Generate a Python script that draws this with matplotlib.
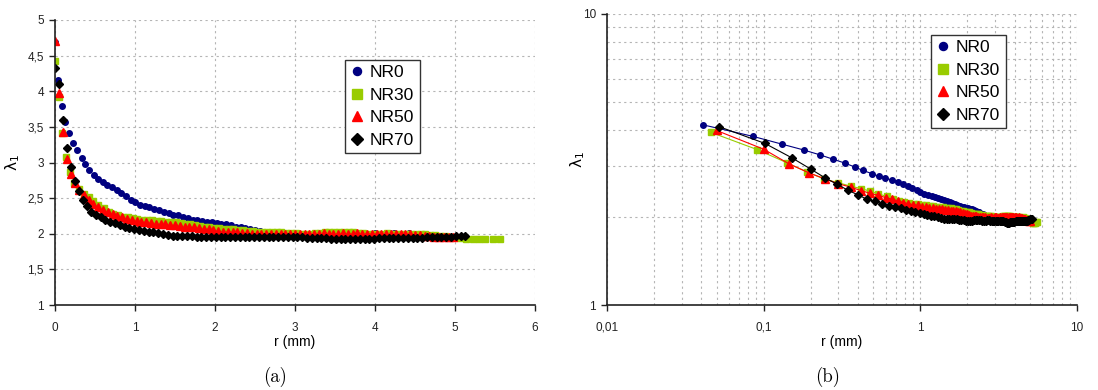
import numpy as np
import matplotlib
matplotlib.use('Agg')
import matplotlib.pyplot as plt
from matplotlib.lines import Line2D
from matplotlib.ticker import FuncFormatter, LogLocator, NullFormatter, MultipleLocator

# NR0
r_nr0 = [0, 0.041, 0.085, 0.131, 0.18, 0.229, 0.277, 0.332, 0.381, 0.43, 0.489, 0.542, 0.594, 0.656, 0.716, 0.77, 0.83, 0.89, 0.95, 1.0,
         1.06, 1.12, 1.18, 1.24, 1.3, 1.36, 1.42, 1.48, 1.54, 1.6, 1.66, 1.72, 1.78, 1.84, 1.9, 1.96, 2.02, 2.08, 2.14, 2.2,
         2.26, 2.32, 2.38, 2.44, 2.5, 2.56, 2.62, 2.68, 2.74, 2.8, 2.86, 2.92, 2.98, 3.04, 3.1, 3.16, 3.22, 3.28, 3.34, 3.4,
         3.46, 3.52, 3.58, 3.64, 3.7, 3.76, 3.82, 3.88, 3.94, 4.0, 4.06, 4.12, 4.18, 4.24, 4.3, 4.36, 4.42, 4.48, 4.54, 4.6, 4.66, 4.72]
l_nr0 = [4.69, 4.16, 3.80, 3.57, 3.41, 3.28, 3.17, 3.07, 2.98, 2.90, 2.83, 2.77, 2.73, 2.69, 2.65, 2.61, 2.57, 2.53, 2.48, 2.44,
         2.41, 2.39, 2.37, 2.35, 2.33, 2.31, 2.29, 2.27, 2.26, 2.24, 2.22, 2.20, 2.19, 2.18, 2.17, 2.16, 2.15, 2.14, 2.13, 2.12,
         2.10, 2.09, 2.08, 2.06, 2.05, 2.04, 2.03, 2.02, 2.02, 2.01, 2.01, 2.01, 2.00, 2.00, 2.00, 2.00, 2.00, 1.99, 1.99, 2.00,
         2.00, 2.01, 2.01, 2.00, 2.00, 2.01, 2.01, 2.00, 2.00, 2.01, 2.00, 2.00, 2.01, 2.01, 2.00, 2.00, 2.01, 2.00, 1.99, 1.99, 1.98, 1.98]

# NR30
r_nr30 = [0, 0.046, 0.091, 0.141, 0.188, 0.243, 0.30, 0.36, 0.42, 0.48, 0.54, 0.61, 0.67, 0.73, 0.79, 0.85, 0.91, 0.97, 1.03, 1.09,
          1.15, 1.21, 1.27, 1.33, 1.39, 1.45, 1.51, 1.57, 1.63, 1.69, 1.75, 1.81, 1.87, 1.93, 1.99, 2.05, 2.11, 2.17, 2.23, 2.29,
          2.35, 2.41, 2.47, 2.53, 2.59, 2.65, 2.71, 2.77, 2.83, 2.89, 2.95, 3.01, 3.07, 3.13, 3.19, 3.25, 3.31, 3.37, 3.43, 3.49,
          3.55, 3.61, 3.67, 3.73, 3.79, 3.85, 3.91, 3.97, 4.03, 4.09, 4.15, 4.21, 4.27, 4.33, 4.39, 4.45, 4.51, 4.57, 4.63, 4.69,
          4.75, 4.81, 4.87, 4.93, 4.99, 5.06, 5.14, 5.22, 5.30, 5.38, 5.47, 5.56]
l_nr30 = [4.43, 3.92, 3.42, 3.08, 2.87, 2.71, 2.63, 2.56, 2.51, 2.46, 2.41, 2.36, 2.31, 2.28, 2.26, 2.24, 2.23, 2.22, 2.21, 2.20,
          2.19, 2.19, 2.18, 2.18, 2.17, 2.16, 2.16, 2.15, 2.14, 2.13, 2.12, 2.11, 2.10, 2.09, 2.08, 2.08, 2.07, 2.06, 2.06, 2.05,
          2.05, 2.04, 2.04, 2.03, 2.03, 2.03, 2.02, 2.02, 2.02, 2.01, 2.01, 2.01, 2.00, 2.00, 2.00, 2.01, 2.01, 2.02, 2.02, 2.02,
          2.03, 2.03, 2.02, 2.02, 2.01, 2.01, 2.00, 2.00, 2.00, 2.00, 2.01, 2.00, 2.00, 1.99, 1.99, 1.99, 2.00, 1.99, 1.99, 1.98,
          1.98, 1.97, 1.97, 1.96, 1.95, 1.94, 1.93, 1.92, 1.92, 1.92, 1.93, 1.93]

# NR50
r_nr50 = [0, 0.050, 0.10, 0.146, 0.196, 0.248, 0.30, 0.36, 0.42, 0.48, 0.54, 0.60, 0.66, 0.72, 0.78, 0.84, 0.90, 0.96, 1.02, 1.08,
          1.14, 1.2, 1.26, 1.32, 1.38, 1.44, 1.5, 1.56, 1.62, 1.68, 1.74, 1.8, 1.86, 1.92, 1.98, 2.04, 2.1, 2.16, 2.22, 2.28,
          2.34, 2.4, 2.46, 2.52, 2.58, 2.64, 2.7, 2.76, 2.82, 2.88, 2.94, 3.0, 3.06, 3.12, 3.18, 3.24, 3.3, 3.36, 3.42, 3.48,
          3.54, 3.6, 3.66, 3.72, 3.78, 3.84, 3.9, 3.96, 4.02, 4.08, 4.14, 4.2, 4.26, 4.32, 4.38, 4.44, 4.5, 4.56, 4.62, 4.68,
          4.74, 4.8, 4.86, 4.92, 4.98]
l_nr50 = [4.70, 3.98, 3.43, 3.05, 2.84, 2.71, 2.61, 2.54, 2.47, 2.42, 2.38, 2.34, 2.31, 2.28, 2.25, 2.23, 2.21, 2.20, 2.18, 2.17,
          2.16, 2.15, 2.14, 2.14, 2.13, 2.12, 2.12, 2.11, 2.10, 2.10, 2.09, 2.08, 2.07, 2.06, 2.05, 2.04, 2.03, 2.03, 2.02, 2.02,
          2.01, 2.01, 2.00, 2.00, 2.00, 1.99, 1.99, 1.99, 2.00, 1.99, 1.99, 2.00, 2.00, 1.99, 1.99, 2.00, 2.00, 2.01, 2.00, 2.00,
          2.00, 2.01, 2.00, 2.00, 2.01, 2.00, 2.00, 1.99, 2.00, 2.00, 1.99, 1.99, 2.00, 1.99, 1.99, 1.99, 1.98, 1.98, 1.97, 1.97,
          1.96, 1.96, 1.96, 1.95, 1.95]

# NR70
r_nr70 = [0, 0.052, 0.102, 0.152, 0.20, 0.245, 0.294, 0.345, 0.40, 0.455, 0.51, 0.57, 0.63, 0.69, 0.75, 0.81, 0.87, 0.93, 0.99, 1.05,
          1.11, 1.17, 1.23, 1.29, 1.35, 1.41, 1.47, 1.53, 1.59, 1.65, 1.71, 1.77, 1.83, 1.89, 1.95, 2.01, 2.07, 2.13, 2.19, 2.25,
          2.31, 2.37, 2.43, 2.49, 2.55, 2.61, 2.67, 2.73, 2.79, 2.85, 2.91, 2.97, 3.03, 3.09, 3.15, 3.21, 3.27, 3.33, 3.39, 3.45,
          3.51, 3.57, 3.63, 3.69, 3.75, 3.81, 3.87, 3.93, 3.99, 4.05, 4.11, 4.17, 4.23, 4.29, 4.35, 4.41, 4.47, 4.53, 4.59, 4.65,
          4.71, 4.77, 4.83, 4.89, 4.95, 5.01, 5.07, 5.13]
l_nr70 = [4.32, 4.10, 3.59, 3.20, 2.93, 2.74, 2.60, 2.48, 2.39, 2.31, 2.27, 2.23, 2.19, 2.17, 2.15, 2.12, 2.10, 2.08, 2.07, 2.05,
          2.04, 2.03, 2.02, 2.01, 1.99, 1.98, 1.97, 1.97, 1.97, 1.97, 1.97, 1.96, 1.96, 1.96, 1.95, 1.95, 1.95, 1.95, 1.96, 1.96,
          1.96, 1.96, 1.96, 1.95, 1.95, 1.95, 1.96, 1.96, 1.95, 1.95, 1.95, 1.95, 1.95, 1.95, 1.94, 1.94, 1.94, 1.94, 1.94, 1.93,
          1.93, 1.92, 1.92, 1.92, 1.93, 1.93, 1.93, 1.93, 1.93, 1.94, 1.94, 1.94, 1.94, 1.94, 1.94, 1.94, 1.94, 1.94, 1.94, 1.95,
          1.95, 1.95, 1.95, 1.96, 1.96, 1.97, 1.97, 1.97]

names = ['NR0', 'NR30', 'NR50', 'NR70']
xs = [r_nr0, r_nr30, r_nr50, r_nr70]
ys = [l_nr0, l_nr30, l_nr50, l_nr70]
colors = ['#000080', '#99CC00', '#FF0000', '#000000']
markers = ['o', 's', '^', 'D']
msizes = [4.0, 5.0, 5.5, 4.2]

plt.rcParams['font.family'] = ['Liberation Sans', 'DejaVu Sans']
plt.rcParams['mathtext.fontset'] = 'dejavusans'

fig = plt.figure(figsize=(10.98, 3.9), dpi=100)
ax1 = fig.add_axes([55/1098, 85/390, 480/1098, 285/390])
ax2 = fig.add_axes([607/1098, 85/390, 470/1098, 291/390])

comma = FuncFormatter(lambda v, p: f'{v:g}'.replace('.', ','))

def style(ax, ylab_x):
	for s in ['top', 'right']:
		ax.spines[s].set_visible(False)
	for s in ['left', 'bottom']:
		ax.spines[s].set_color('#222222')
		ax.spines[s].set_linewidth(1.2)
	ax.tick_params(which='major', direction='out', length=4, width=1, labelsize=8.5, colors='#222222')
	ax.tick_params(axis='x', which='major', pad=8)
	ax.tick_params(axis='y', which='major', pad=4)
	ax.tick_params(which='minor', length=0)
	ax.set_axisbelow(True)
	ax.set_xlabel('r (mm)', fontsize=10, labelpad=1)
	ax.set_ylabel(r'$\mathrm{\lambda}_1$', fontsize=11)
	ax.yaxis.set_label_coords(ylab_x, 0.5)

# (a) linear
for x, y, c, m, s, n in zip(xs, ys, colors, markers, msizes, names):
	ax1.plot(x, y, linestyle='none', marker=m, ms=s, color=c, mec=c, label=n)
ax1.set_xlim(0, 6)
ax1.set_ylim(1, 5)
ax1.xaxis.set_major_locator(MultipleLocator(1))
ax1.yaxis.set_major_locator(MultipleLocator(0.5))
ax1.xaxis.set_major_formatter(comma)
ax1.yaxis.set_major_formatter(comma)
ax1.grid(True, linestyle=(0, (2, 3)), color='#b5b5b5', linewidth=0.8)
style(ax1, -0.068)

# (b) log-log, r=0 point left out
for x, y, c, m, s, n in zip(xs, ys, colors, markers, msizes, names):
	ax2.plot(x[1:], y[1:], linestyle='-', linewidth=0.8, marker=m, ms=s, color=c, mec=c, label=n)
ax2.set_xscale('log')
ax2.set_yscale('log')
ax2.set_xlim(0.01, 10)
ax2.set_ylim(1, 10)
ax2.xaxis.set_minor_locator(LogLocator(base=10, subs=range(2, 10)))
ax2.yaxis.set_minor_locator(LogLocator(base=10, subs=range(2, 10)))
ax2.xaxis.set_minor_formatter(NullFormatter())
ax2.yaxis.set_minor_formatter(NullFormatter())
ax2.xaxis.set_major_formatter(comma)
ax2.yaxis.set_major_formatter(comma)
ax2.grid(True, which='both', linestyle=(0, (2, 3)), color='#b5b5b5', linewidth=0.8)
style(ax2, -0.043)

handles = [Line2D([], [], linestyle='none', marker=m, ms=s + 1.8, color=c, mec=c)
           for c, m, s in zip(colors, markers, msizes)]
for ax, anchor in [(ax1, (0.604, 0.86)), (ax2, (0.689, 0.928))]:
	leg = ax.legend(handles, names, loc='upper left', bbox_to_anchor=anchor, fontsize=12.5,
	                frameon=True, fancybox=False, framealpha=1, edgecolor='#333333',
	                handlelength=0.8, handletextpad=0.35, labelspacing=0.42,
	                borderpad=0.3, borderaxespad=0)
	leg.get_frame().set_linewidth(1.0)

fig.text(275/1098, 1 - 377/390, '(a)', fontfamily='cmr10', fontsize=13.5, ha='center', va='center')
fig.text(828/1098, 1 - 377/390, '(b)', fontfamily='cmr10', fontsize=13.5, ha='center', va='center')

fig.savefig('out.png', dpi=100)
